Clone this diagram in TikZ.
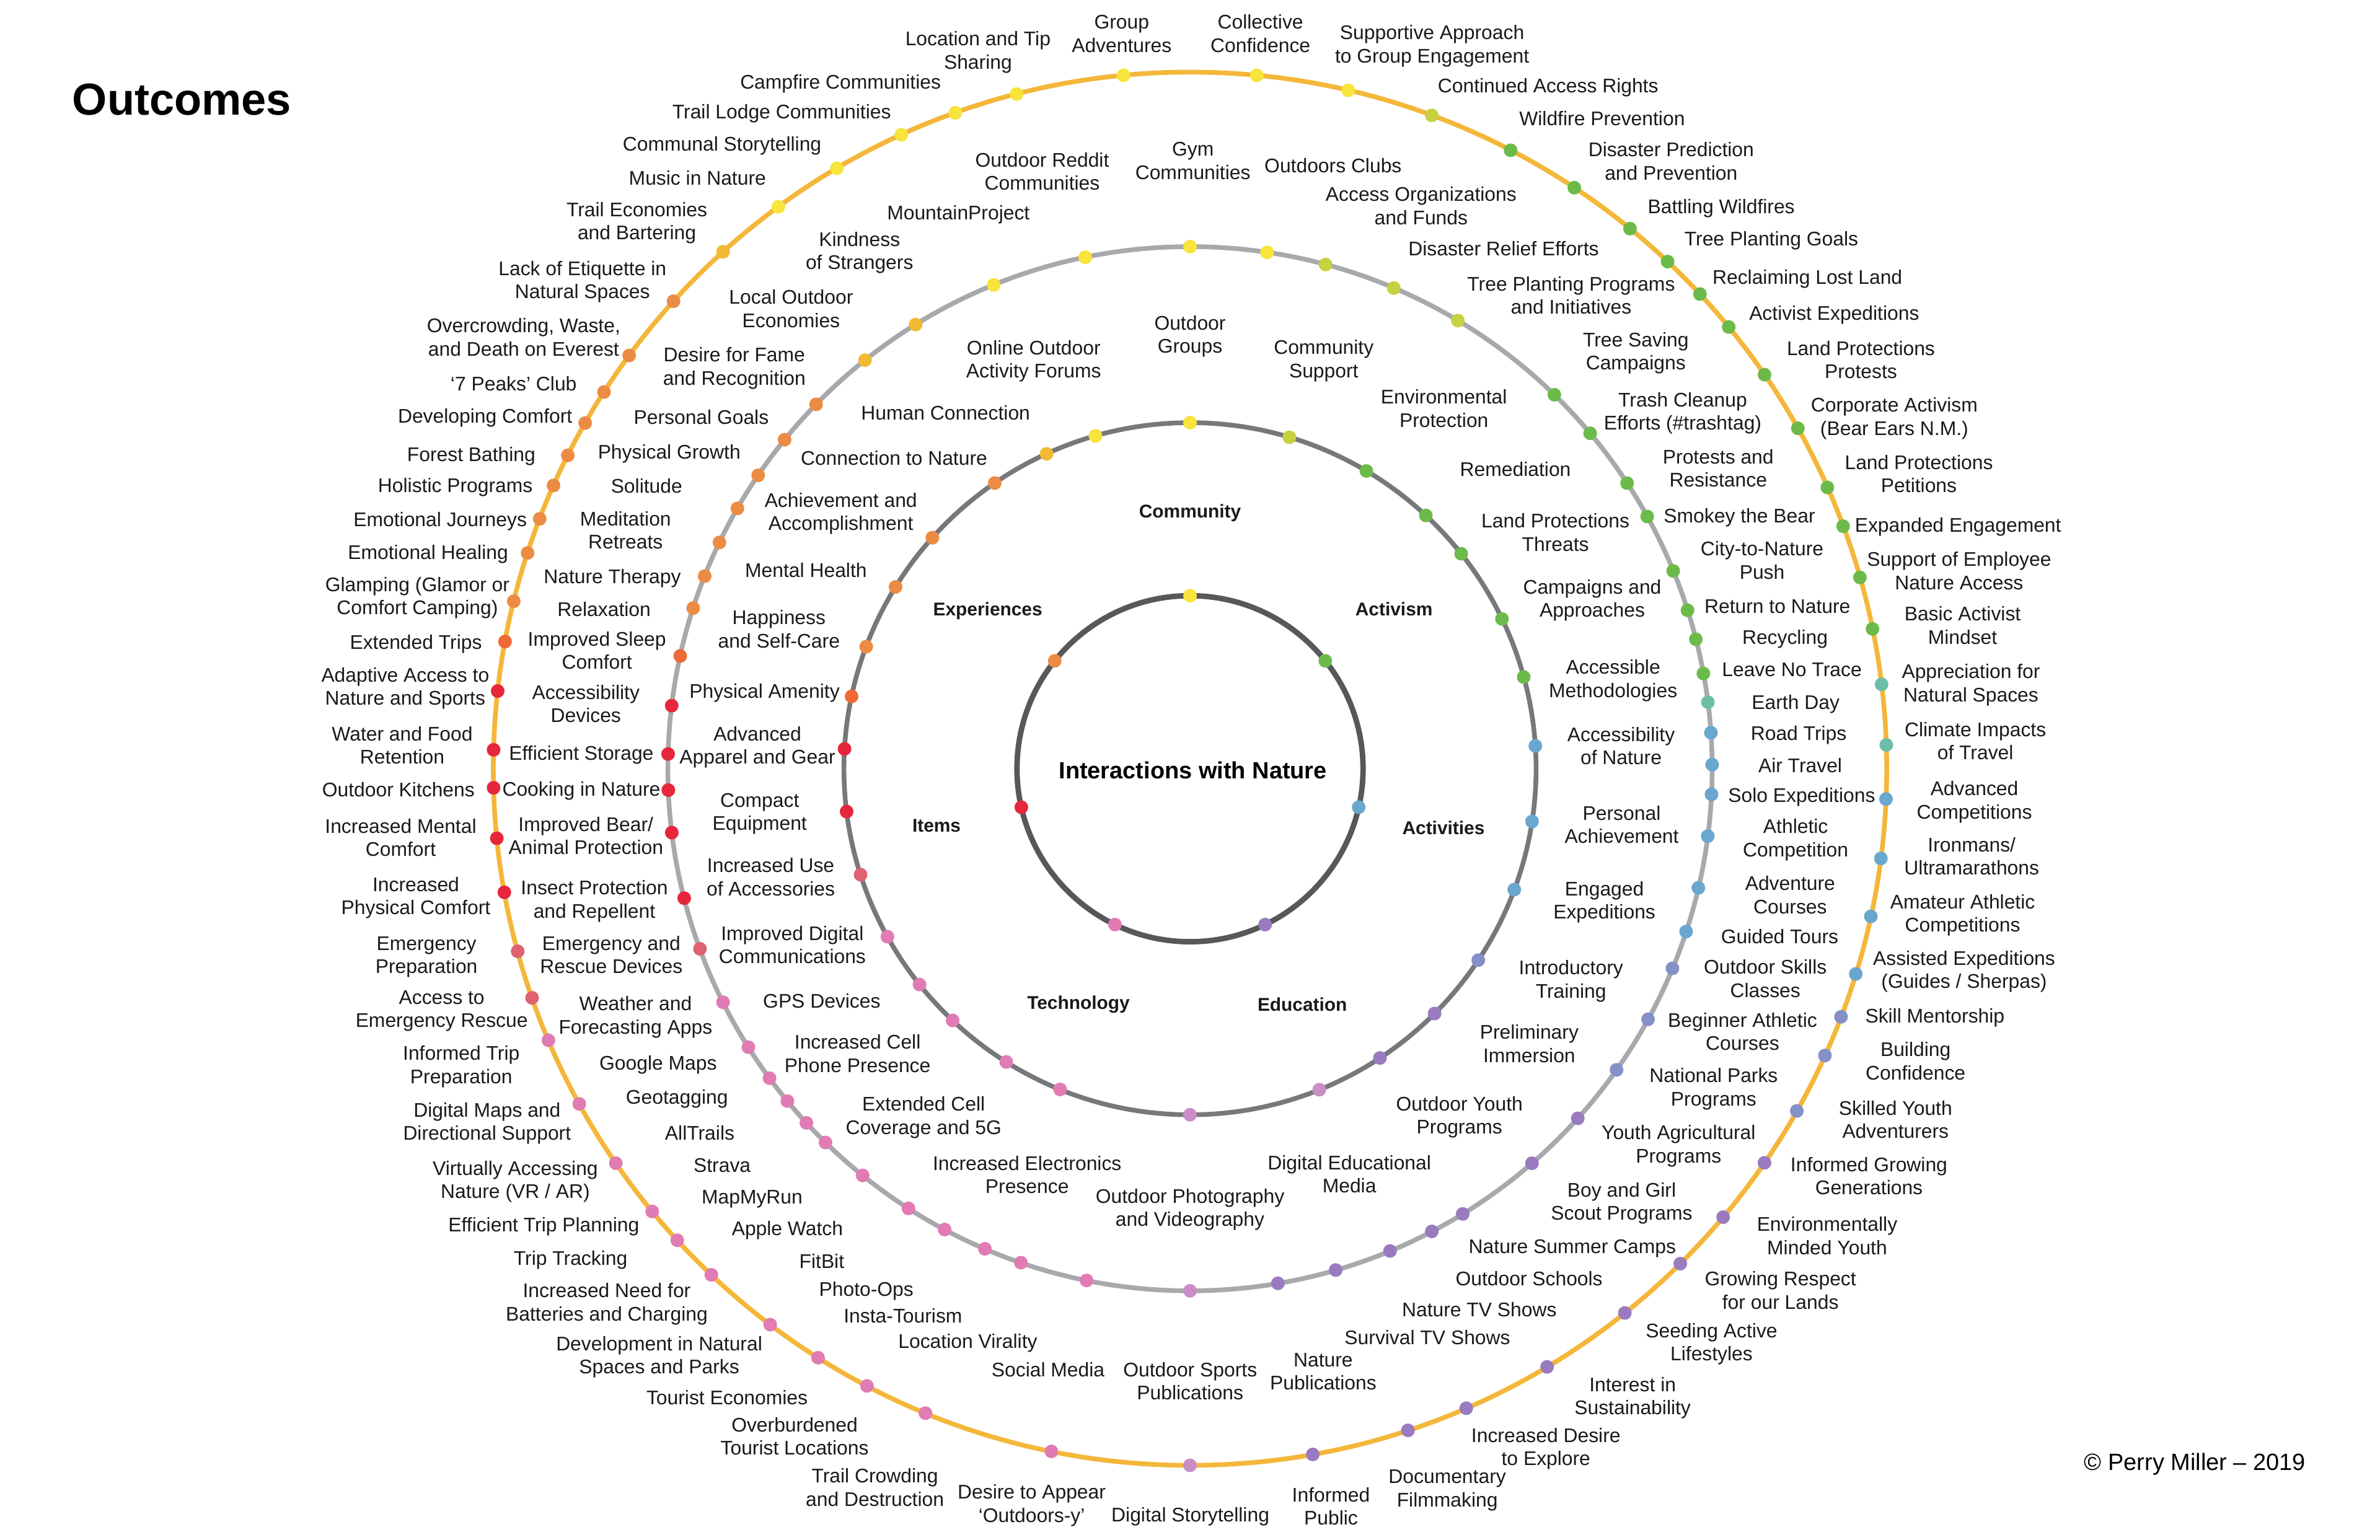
\documentclass[tikz,border=0pt]{standalone}
\usepackage{fontspec}
\setmainfont{Liberation Sans}
\definecolor{cyel}{HTML}{F8E43A}
\definecolor{cygr}{HTML}{C6D23F}
\definecolor{cgrn}{HTML}{6CBB4A}
\definecolor{ctea}{HTML}{6CBFA6}
\definecolor{cblu}{HTML}{69A7CE}
\definecolor{cper}{HTML}{8490C7}
\definecolor{cpur}{HTML}{9A7BBF}
\definecolor{clil}{HTML}{CA8EC7}
\definecolor{cpnk}{HTML}{E17BB3}
\definecolor{cros}{HTML}{E0616F}
\definecolor{cred}{HTML}{E6263B}
\definecolor{core}{HTML}{EF6A34}
\definecolor{corn}{HTML}{EC8C44}
\definecolor{cyor}{HTML}{F2BA33}
\definecolor{ringa}{HTML}{58585B}
\definecolor{ringb}{HTML}{77787B}
\definecolor{ringc}{HTML}{A8A9AC}
\definecolor{ringd}{HTML}{F4B73A}
\definecolor{ink}{HTML}{1A1A1A}
\newcommand\lstr{\rule[-3pt]{0pt}{15pt}}
\newcommand\tx[1]{\lstr#1\lstr}
\newcommand\labfont{\fontsize{13}{15.3}\selectfont}
\newcommand\catfont{\fontsize{12.2}{14}\selectfont\bfseries}
\newcommand\dotring[2]{\foreach \px/\py/\pc in {#2}{\pgfmathsetmacro\ang{atan2(\py-506.5,\px-784)}\fill[fill=\pc] (C) ++(\ang:#1) circle[radius=4.5];}}
\tikzset{
  lbl/.style={font=\labfont, align=center, inner sep=0pt, text=ink},
  cat/.style={font=\catfont, align=center, inner sep=0pt, text=ink},
  ringline/.style={line width=3.1pt}
}
\begin{document}
\begin{tikzpicture}[x=1pt,y=-1pt]
\fill[white] (0,0) rectangle (1568,1014.7);
\useasboundingbox (0,0) rectangle (1568,1014.7);
\coordinate (C) at (784,506.5);
% rings
\draw[ringd, ringline] (C) circle[radius=459];
\draw[ringc, ringline] (C) circle[radius=344];
\draw[ringb, ringline] (C) circle[radius=228];
\draw[ringa, line width=3.6pt] (C) circle[radius=114];
% dots
\foreach \a/\c in {-90/cyel, -38.57/cgrn, 12.86/cblu, 64.29/cpur, 115.71/cpnk, 167.14/cred, 218.57/corn}{\fill[fill=\c] (C) ++(\a:114) circle[radius=4.5];}
\dotring{228}{784/279/cyel, 849.5/288/cygr, 900.5/309.8/cgrn, 937.5/341.6/cgrn, 962.5/365/cgrn, 989.5/407.8/cgrn, 1005/445.8/cgrn, 1012.25/491.4/cblu, 1010.25/541.4/cblu, 998.25/586.4/cblu, 975.25/633.5/cper, 946/668.7/cpur, 910/698.4/cpur, 869.75/719.5/clil, 784/736/clil, 698/718.8/cpnk, 662/701.2/cpnk, 627/673/cpnk, 604.5/649.7/cpnk, 583.25/617.9/cpnk, 566/576.6/cros, 556.5/534.9/cred, 555.75/493.4/cred, 560/458.6/core, 570.25/425.9/corn, 589/386.1/corn, 614/354.1/corn, 655/317.8/corn, 689.5/299/cyor, 721.5/286.5/cyel}
\dotring{344}{784/163/cyel, 834.75/166.5/cyel, 873.25/174.5/cygr, 918.25/189.8/cygr, 960.25/211.5/cygr, 1024/260.1/cgrn, 1047.25/285.8/cgrn, 1072/318.3/cgrn, 1085.75/340/cgrn, 1102.25/376.2/cgrn, 1111.75/402.1/cgrn, 1117.25/421.2/cgrn, 1121.5/443.9/cgrn, 1124.75/462.7/ctea, 1126.75/482.8/cblu, 1128/503.8/cblu, 1127/523.4/cblu, 1125/550.9/cblu, 1119/585/cblu, 1111.5/614/cblu, 1101.75/638/cper, 1086.5/672/cper, 1065/704.9/cper, 1040/737.3/cpur, 1009.5/766.7/cpur, 963.75/800/cpur, 943.5/811.7/cpur, 916.25/825.4/cpur, 880/836.8/cpur, 842/846/cpur, 784/851.6/clil, 715.5/845.4/cpnk, 672/833.6/cpnk, 648.5/823.7/cpnk, 622/810.8/cpnk, 598.25/796.6/cpnk, 567.5/775.5/cpnk, 543.25/753.4/cpnk, 530.75/740.3/cpnk, 518.75/725.5/cpnk, 506.25/710.9/cpnk, 492.25/690.5/cpnk, 475.75/660.7/cpnk, 460.25/625.5/cros, 450/592/cred, 441.75/548.7/cred, 440.25/520.6/cred, 440.25/496.8/cred, 443/465/cred, 448.25/432.2/core, 456.5/400.6/corn, 464.25/379.6/corn, 474.75/357.8/corn, 485.25/334.7/corn, 500/313.5/corn, 517.75/290.4/corn, 538.25/267/corn, 570.25/237.8/cyor, 603.75/214.7/cyor, 655/188.5/cyel, 715.25/170.8/cyel}
\dotring{459}{740.25/50.2/cyel, 828/50.2/cyel, 888.25/59.5/cyel, 943.25/76.1/cygr, 994.75/99.9/cgrn, 1036.75/124.3/cgrn, 1073.25/151.4/cgrn, 1098.5/172.5/cgrn, 1120.25/193.5/cgrn, 1138.75/215.6/cgrn, 1163/246.5/cgrn, 1184.5/282.2/cgrn, 1204.5/320.9/cgrn, 1213.5/347/cgrn, 1225.25/380.5/cgrn, 1233/414.5/cgrn, 1240.25/450.8/ctea, 1242.75/490.8/ctea, 1242.25/526.5/cblu, 1239/565.6/cblu, 1233/603.9/cblu, 1222.5/641.7/cblu, 1213.5/670.2/cper, 1203/695.8/cper, 1184.5/732.4/cper, 1163.25/766.7/cpur, 1136/802.6/cpur, 1108/833.6/cpur, 1071.75/866.7/cpur, 1020/901.9/cpur, 966.5/929/cpur, 928.25/944.4/cpur, 865/959/cpur, 784/966.6/clil, 692.25/958.4/cpnk, 609/932.8/cpnk, 570.5/914.4/cpnk, 538/896.1/cpnk, 506.5/874/cpnk, 468.25/840.4/cpnk, 445.25/818.1/cpnk, 428.75/799/cpnk, 404.5/767.2/cpnk, 380.25/728.1/cpnk, 360/686/cpnk, 349.25/657.9/cros, 339.5/627.2/cros, 331.5/588.1/cred, 326.75/552.4/cred, 324.25/519.1/cred, 324.25/494/cred, 328/455.3/cred, 332.5/422.7/core, 338.25/396.1/corn, 347.5/364.3/corn, 356/342/corn, 365/320/corn, 374.25/300.1/corn, 385.75/278.9/corn, 398.75/258.8/corn, 415/234.6/corn, 443.75/198.5/corn, 476.25/165.8/cyor, 512.75/136.2/cyel, 551.25/110.7/cyel, 594/89.3/cyel, 629.5/74.6/cyel, 670/62.9/cyel}
% title, centre, credit
\node[anchor=base west, inner sep=0pt, text=black, font=\fontsize{29.5}{32}\selectfont\bfseries] (title) at (47.5,75.7) {Outcomes};
\node[anchor=base, inner sep=0pt, text=black, font=\fontsize{15.5}{18}\selectfont\bfseries] (ctr) at (785.9,513.1) {Interactions with Nature};
\node[anchor=base west, inner sep=0pt, text=black, font=\fontsize{15.5}{18}\selectfont] (credit) at (1373,968.8) {© Perry Miller – 2019};
% categories
\node[cat] (c1) at (784,336.5) {\tx{Community}};
\node[cat] (c2) at (918.4,401.3) {\tx{Activism}};
\node[cat] (c3) at (951,545.5) {\tx{Activities}};
\node[cat] (c4) at (858,661.6) {\tx{Education}};
\node[cat] (c5) at (710.5,660.5) {\tx{Technology}};
\node[cat] (c6) at (617,543.8) {\tx{Items}};
\node[cat] (c7) at (650.75,401.3) {\tx{Experiences}};
% ring 2 labels
\node[lbl] (m1) at (784,220.5) {\tx{Outdoor\\Groups}};
\node[lbl] (m2) at (872.1,236.55) {\tx{Community\\Support}};
\node[lbl] (m3) at (951.3,269.2) {\tx{Environmental\\Protection}};
\node[lbl] (m4) at (998.4,309.2) {\tx{Remediation}};
\node[lbl] (m5) at (1024.75,350.9) {\tx{Land Protections\\Threats}};
\node[lbl] (m6) at (1049,394.35) {\tx{Campaigns and\\Approaches}};
\node[lbl] (m7) at (1062.75,447.3) {\tx{Accessible\\Methodologies}};
\node[lbl] (m8) at (1068,491.65) {\tx{Accessibility\\of Nature}};
\node[lbl] (m9) at (1068.4,543.55) {\tx{Personal\\Achievement}};
\node[lbl] (m10) at (1057,593.25) {\tx{Engaged\\Expeditions}};
\node[lbl] (m11) at (1035,645.4) {\tx{Introductory\\Training}};
\node[lbl] (m12) at (1007.5,687.8) {\tx{Preliminary\\Immersion}};
\node[lbl] (m13) at (961.5,734.95) {\tx{Outdoor Youth\\Programs}};
\node[lbl] (m14) at (889,773.85) {\tx{Digital Educational\\Media}};
\node[lbl] (m15) at (784,795.85) {\tx{Outdoor Photography\\and Videography}};
\node[lbl] (m16) at (676.7,774.25) {\tx{Increased Electronics\\Presence}};
\node[lbl] (m17) at (608.5,735.15) {\tx{Extended Cell\\Coverage and 5G}};
\node[lbl] (m18) at (565,694.35) {\tx{Increased Cell\\Phone Presence}};
\node[lbl] (m19) at (541.4,659.6) {\tx{GPS Devices}};
\node[lbl] (m20) at (522,622.65) {\tx{Improved Digital\\Communications}};
\node[lbl] (m21) at (507.8,577.95) {\tx{Increased Use\\of Accessories}};
\node[lbl] (m22) at (500.5,534.9) {\tx{Compact\\Equipment}};
\node[lbl] (m23) at (499,491.2) {\tx{Advanced\\Apparel and Gear}};
\node[lbl] (m24) at (503.7,455.3) {\tx{Physical Amenity}};
\node[lbl] (m25) at (513.2,414.65) {\tx{Happiness\\and Self-Care}};
\node[lbl] (m26) at (531,375.8) {\tx{Mental Health}};
\node[lbl] (m27) at (554,337.35) {\tx{Achievement and\\Accomplishment}};
\node[lbl] (m28) at (589,302) {\tx{Connection to Nature}};
\node[lbl] (m29) at (623,272) {\tx{Human Connection}};
\node[lbl] (m30) at (681,236.75) {\tx{Online Outdoor\\Activity Forums}};
% ring 3 labels
\node[lbl] (t1) at (785.9,105.95) {\tx{Gym\\Communities}};
\node[lbl] (t2) at (878.25,109.2) {\tx{Outdoors Clubs}};
\node[lbl] (t3) at (936.25,135.8) {\tx{Access Organizations\\and Funds}};
\node[lbl] (t4) at (990.6,163.9) {\tx{Disaster Relief Efforts}};
\node[lbl] (t5) at (1035.1,194.8) {\tx{Tree Planting Programs\\and Initiatives}};
\node[lbl] (t6) at (1077.7,231.6) {\tx{Tree Saving\\Campaigns}};
\node[lbl] (t7) at (1108.6,271.15) {\tx{Trash Cleanup\\Efforts (\#trashtag)}};
\node[lbl] (t8) at (1132,308.65) {\tx{Protests and\\Resistance}};
\node[lbl] (t9) at (1146,340) {\tx{Smokey the Bear}};
\node[lbl] (t10) at (1160.9,369.25) {\tx{City-to-Nature\\Push}};
\node[lbl] (t11) at (1171,399.5) {\tx{Return to Nature}};
\node[lbl] (t12) at (1176,420) {\tx{Recycling}};
\node[lbl] (t13) at (1180.5,441.3) {\tx{Leave No Trace}};
\node[lbl] (t14) at (1183,462.9) {\tx{Earth Day}};
\node[lbl] (t15) at (1185,483.4) {\tx{Road Trips}};
\node[lbl] (t16) at (1186,504.4) {\tx{Air Travel}};
\node[lbl] (t17) at (1187,523.9) {\tx{Solo Expeditions}};
\node[lbl] (t18) at (1183,552.2) {\tx{Athletic\\Competition}};
\node[lbl] (t19) at (1179.4,589.8) {\tx{Adventure\\Courses}};
\node[lbl] (t20) at (1172.5,617.3) {\tx{Guided Tours}};
\node[lbl] (t21) at (1163,644.95) {\tx{Outdoor Skills\\Classes}};
\node[lbl] (t22) at (1148,679.85) {\tx{Beginner Athletic\\Courses}};
\node[lbl] (t23) at (1129,716.35) {\tx{National Parks\\Programs}};
\node[lbl] (t24) at (1105.9,754.05) {\tx{Youth Agricultural\\Programs}};
\node[lbl] (t25) at (1068.4,791.65) {\tx{Boy and Girl\\Scout Programs}};
\node[lbl] (t26) at (1035.9,821.3) {\tx{Nature Summer Camps}};
\node[lbl] (t27) at (1007.4,842.4) {\tx{Outdoor Schools}};
\node[lbl] (t28) at (974.6,862.8) {\tx{Nature TV Shows}};
\node[lbl] (t29) at (940.4,881.5) {\tx{Survival TV Shows}};
\node[lbl] (t30) at (871.75,903.6) {\tx{Nature\\Publications}};
\node[lbl] (t31) at (784.1,910.05) {\tx{Outdoor Sports\\Publications}};
\node[lbl] (t32) at (690.5,902.5) {\tx{Social Media}};
\node[lbl] (t33) at (637.6,883.9) {\tx{Location Virality}};
\node[lbl] (t34) at (594.9,867.1) {\tx{Insta-Tourism}};
\node[lbl] (t35) at (570.75,849.5) {\tx{Photo-Ops}};
\node[lbl] (t36) at (541.4,831) {\tx{FitBit}};
\node[lbl] (t37) at (518.75,809.5) {\tx{Apple Watch}};
\node[lbl] (t38) at (495.5,788.7) {\tx{MapMyRun}};
\node[lbl] (t39) at (475.75,767.8) {\tx{Strava}};
\node[lbl] (t40) at (461,746.8) {\tx{AllTrails}};
\node[lbl] (t41) at (446,723.1) {\tx{Geotagging}};
\node[lbl] (t42) at (433.6,700.6) {\tx{Google Maps}};
\node[lbl] (t43) at (418.7,669) {\tx{Weather and\\Forecasting Apps}};
\node[lbl] (t44) at (402.75,629.3) {\tx{Emergency and\\Rescue Devices}};
\node[lbl] (t45) at (391.6,592.6) {\tx{Insect Protection\\and Repellent}};
\node[lbl] (t46) at (386,550.9) {\tx{Improved Bear/\\Animal Protection}};
\node[lbl] (t47) at (383,520.2) {\tx{Cooking in Nature}};
\node[lbl] (t48) at (383,496.2) {\tx{Efficient Storage}};
\node[lbl] (t49) at (386,463.85) {\tx{Accessibility\\Devices}};
\node[lbl] (t50) at (393.3,428.75) {\tx{Improved Sleep\\Comfort}};
\node[lbl] (t51) at (398,401.7) {\tx{Relaxation}};
\node[lbl] (t52) at (403.4,380) {\tx{Nature Therapy}};
\node[lbl] (t53) at (412.1,349.45) {\tx{Meditation\\Retreats}};
\node[lbl] (t54) at (426,320.4) {\tx{Solitude}};
\node[lbl] (t55) at (440.9,297.9) {\tx{Physical Growth}};
\node[lbl] (t56) at (462,275) {\tx{Personal Goals}};
\node[lbl] (t57) at (483.8,241.6) {\tx{Desire for Fame\\and Recognition}};
\node[lbl] (t58) at (521.2,203.45) {\tx{Local Outdoor\\Economies}};
\node[lbl] (t59) at (566.25,165.4) {\tx{Kindness\\of Strangers}};
\node[lbl] (t60) at (631.4,140.1) {\tx{MountainProject}};
\node[lbl] (t61) at (686.6,113.05) {\tx{Outdoor Reddit\\Communities}};
% ring 4 labels
\node[lbl] (o1) at (739,22.25) {\tx{Group\\Adventures}};
\node[lbl] (o2) at (830.4,22.25) {\tx{Collective\\Confidence}};
\node[lbl] (o3) at (943.5,29.2) {\tx{Supportive Approach\\to Group Engagement}};
\node[lbl] (o4) at (1019.9,56.6) {\tx{Continued Access Rights}};
\node[lbl] (o5) at (1055.5,78.3) {\tx{Wildfire Prevention}};
\node[lbl] (o6) at (1101,106.35) {\tx{Disaster Prediction\\and Prevention}};
\node[lbl] (o7) at (1134,136.2) {\tx{Battling Wildfires}};
\node[lbl] (o8) at (1167,157.4) {\tx{Tree Planting Goals}};
\node[lbl] (o9) at (1190.75,182.7) {\tx{Reclaiming Lost Land}};
\node[lbl] (o10) at (1208.4,206.5) {\tx{Activist Expeditions}};
\node[lbl] (o11) at (1226,237.3) {\tx{Land Protections\\Protests}};
\node[lbl] (o12) at (1248,274.6) {\tx{Corporate Activism\\(Bear Ears N.M.)}};
\node[lbl] (o13) at (1264.2,312.45) {\tx{Land Protections\\Petitions}};
\node[lbl] (o14) at (1290,345.9) {\tx{Expanded Engagement}};
\node[lbl] (o15) at (1290.7,376.2) {\tx{Support of Employee\\Nature Access}};
\node[lbl] (o16) at (1293,412.25) {\tx{Basic Activist\\Mindset}};
\node[lbl] (o17) at (1298.5,450.15) {\tx{Appreciation for\\Natural Spaces}};
\node[lbl] (o18) at (1301.4,488.4) {\tx{Climate Impacts\\of Travel}};
\node[lbl] (o19) at (1300.75,527.3) {\tx{Advanced\\Competitions}};
\node[lbl] (o20) at (1299,564.4) {\tx{Ironmans/\\Ultramarathons}};
\node[lbl] (o21) at (1293,601.9) {\tx{Amateur Athletic\\Competitions}};
\node[lbl] (o22) at (1294,639) {\tx{Assisted Expeditions\\(Guides / Sherpas)}};
\node[lbl] (o23) at (1274.75,669.4) {\tx{Skill Mentorship}};
\node[lbl] (o24) at (1262,699.25) {\tx{Building\\Confidence}};
\node[lbl] (o25) at (1248.8,737.75) {\tx{Skilled Youth\\Adventurers}};
\node[lbl] (o26) at (1231.3,774.9) {\tx{Informed Growing\\Generations}};
\node[lbl] (o27) at (1203.75,814.45) {\tx{Environmentally\\Minded Youth}};
\node[lbl] (o28) at (1173,850.4) {\tx{Growing Respect\\for our Lands}};
\node[lbl] (o29) at (1127.6,884.5) {\tx{Seeding Active\\Lifestyles}};
\node[lbl] (o30) at (1075.6,919.95) {\tx{Interest in\\Sustainability}};
\node[lbl] (o31) at (1018.5,953.35) {\tx{Increased Desire\\to Explore}};
\node[lbl] (o32) at (953.5,980.5) {\tx{Documentary\\Filmmaking}};
\node[lbl] (o33) at (876.9,992.55) {\tx{Informed\\Public}};
\node[lbl] (o34) at (784.25,998) {\tx{Digital Storytelling}};
\node[lbl] (o35) at (679.7,990.85) {\tx{Desire to Appear\\‘Outdoors-y’}};
\node[lbl] (o36) at (576.4,980.2) {\tx{Trail Crowding\\and Destruction}};
\node[lbl] (o37) at (523.5,946.55) {\tx{Overburdened\\Tourist Locations}};
\node[lbl] (o38) at (479,920.8) {\tx{Tourist Economies}};
\node[lbl] (o39) at (434.3,893.1) {\tx{Development in Natural\\Spaces and Parks}};
\node[lbl] (o40) at (399.75,858.05) {\tx{Increased Need for\\Batteries and Charging}};
\node[lbl] (o41) at (375.9,829) {\tx{Trip Tracking}};
\node[lbl] (o42) at (358.25,806.9) {\tx{Efficient Trip Planning}};
\node[lbl] (o43) at (339.5,777.5) {\tx{Virtually Accessing\\Nature (VR / AR)}};
\node[lbl] (o44) at (320.9,739.05) {\tx{Digital Maps and\\Directional Support}};
\node[lbl] (o45) at (303.9,701.65) {\tx{Informed Trip\\Preparation}};
\node[lbl] (o46) at (291,664.65) {\tx{Access to\\Emergency Rescue}};
\node[lbl] (o47) at (281,629.25) {\tx{Emergency\\Preparation}};
\node[lbl] (o48) at (274,590.45) {\tx{Increased\\Physical Comfort}};
\node[lbl] (o49) at (264,551.95) {\tx{Increased Mental\\Comfort}};
\node[lbl] (o50) at (262.5,520.6) {\tx{Outdoor Kitchens}};
\node[lbl] (o51) at (265,491.2) {\tx{Water and Food\\Retention}};
\node[lbl] (o52) at (267,452.5) {\tx{Adaptive Access to\\Nature and Sports}};
\node[lbl] (o53) at (274,423.3) {\tx{Extended Trips}};
\node[lbl] (o54) at (275,392.8) {\tx{Glamping (Glamor or\\Comfort Camping)}};
\node[lbl] (o55) at (282,363.9) {\tx{Emotional Healing}};
\node[lbl] (o56) at (290,342.2) {\tx{Emotional Journeys}};
\node[lbl] (o57) at (300,320) {\tx{Holistic Programs}};
\node[lbl] (o58) at (310.5,299.5) {\tx{Forest Bathing}};
\node[lbl] (o59) at (319.6,274.2) {\tx{Developing Comfort}};
\node[lbl] (o60) at (338.4,253) {\tx{‘7 Peaks’ Club}};
\node[lbl] (o61) at (345,222.25) {\tx{Overcrowding, Waste,\\and Death on Everest}};
\node[lbl] (o62) at (383.75,184.45) {\tx{Lack of Etiquette in\\Natural Spaces}};
\node[lbl] (o63) at (419.6,145.7) {\tx{Trail Economies\\and Bartering}};
\node[lbl] (o64) at (459.5,117.4) {\tx{Music in Nature}};
\node[lbl] (o65) at (475.75,95.1) {\tx{Communal Storytelling}};
\node[lbl] (o66) at (515,73.5) {\tx{Trail Lodge Communities}};
\node[lbl] (o67) at (553.75,54.1) {\tx{Campfire Communities}};
\node[lbl] (o68) at (644.3,33.3) {\tx{Location and Tip\\Sharing}};
\end{tikzpicture}
\end{document}
